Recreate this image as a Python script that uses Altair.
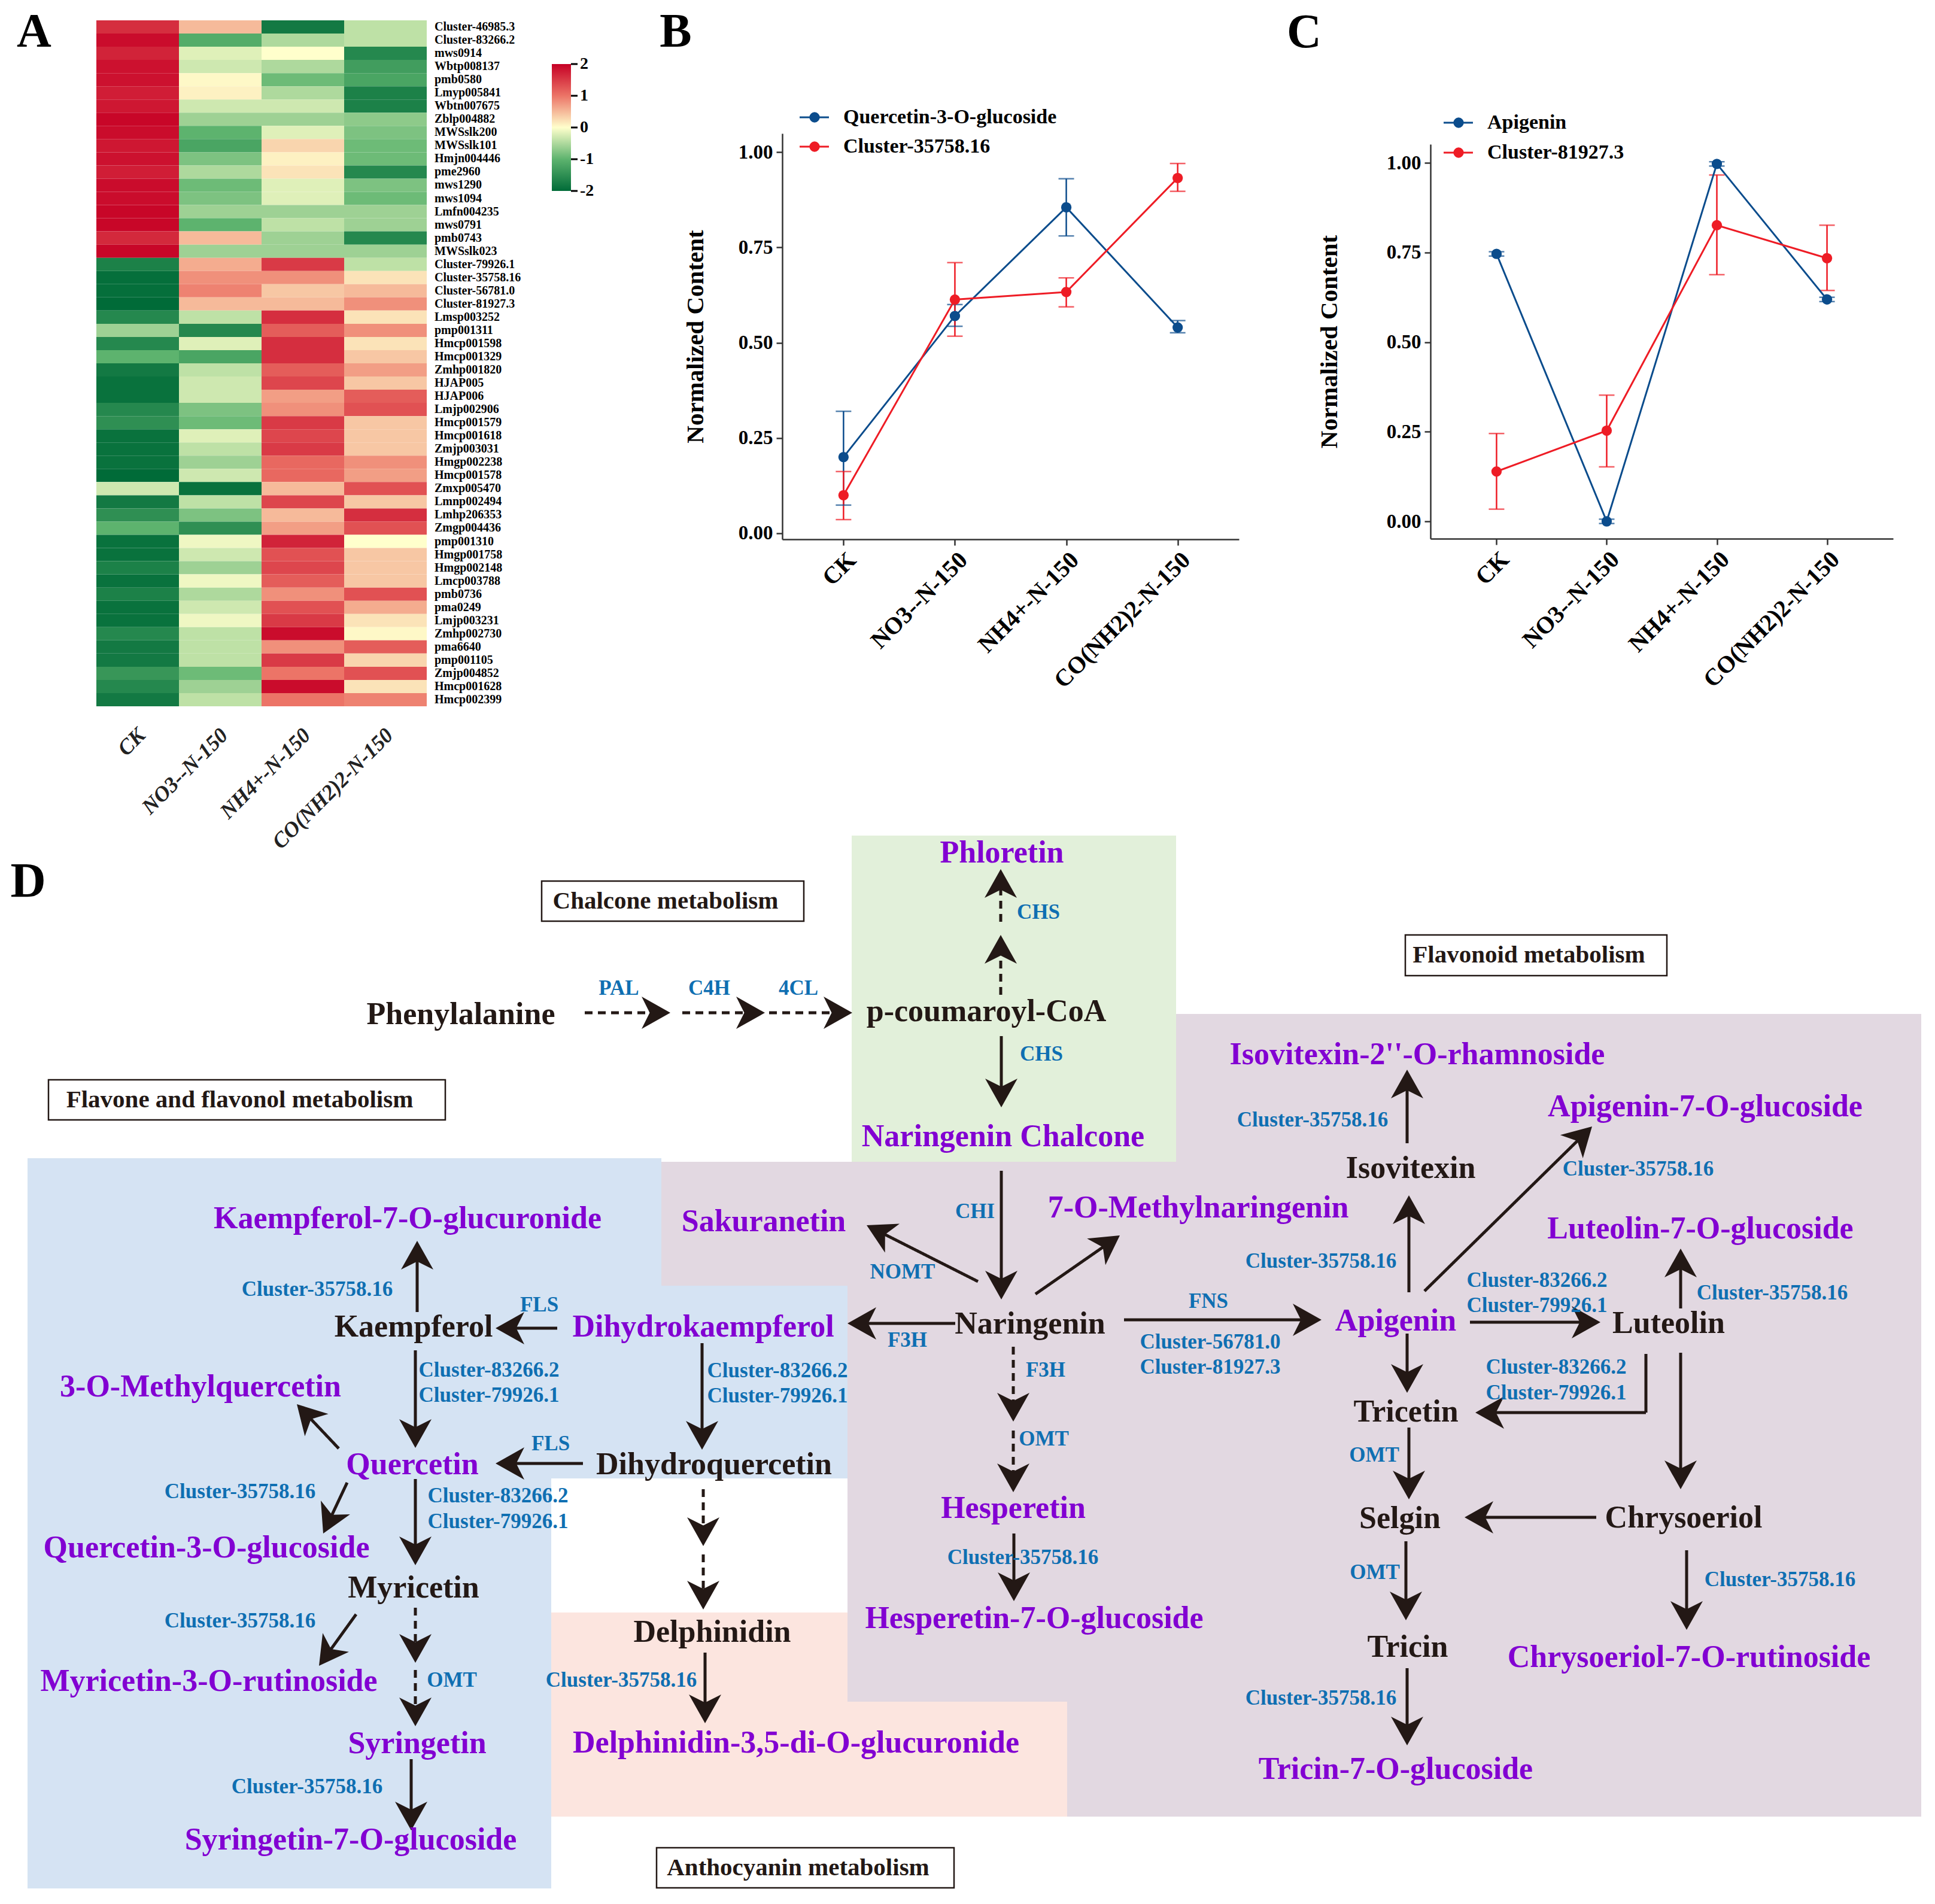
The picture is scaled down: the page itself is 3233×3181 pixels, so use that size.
import math
import altair as alt
import pandas as pd

FONT = "Liberation Serif"
BLACK = "#231815"
PURPLE = "#8200D2"
GENE_BLUE = "#0F6FB2"
LINE_BLUE = "#0B4C8C"
LINE_RED = "#EE1C25"
HEAT_COLORS = ["#006B38", "#5DB36E", "#FFFFCC", "#EC7467", "#C60025"]

# ---------------- Panel A data ----------------
conditions = ["CK", "NO3--N-150", "NH4+-N-150", "CO(NH2)2-N-150"]
genes = ["Cluster-46985.3", "Cluster-83266.2", "mws0914", "Wbtp008137", "pmb0580", "Lmyp005841",
         "Wbtn007675", "Zblp004882", "MWSslk200", "MWSslk101", "Hmjn004446", "pme2960", "mws1290",
         "mws1094", "Lmfn004235", "mws0791", "pmb0743", "MWSslk023", "Cluster-79926.1",
         "Cluster-35758.16", "Cluster-56781.0", "Cluster-81927.3", "Lmsp003252", "pmp001311",
         "Hmcp001598", "Hmcp001329", "Zmhp001820", "HJAP005", "HJAP006", "Lmjp002906", "Hmcp001579",
         "Hmcp001618", "Zmjp003031", "Hmgp002238", "Hmcp001578", "Zmxp005470", "Lmnp002494",
         "Lmhp206353", "Zmgp004436", "pmp001310", "Hmgp001758", "Hmgp002148", "Lmcp003788", "pmb0736",
         "pma0249", "Lmjp003231", "Zmhp002730", "pma6640", "pmp001105", "Zmjp004852", "Hmcp001628",
         "Hmcp002399"]
z_ck = [1.6, 1.9, 1.7, 1.85, 1.85, 1.75, 1.8, 1.95, 1.9, 1.8, 1.85, 1.75, 1.9, 1.9, 1.95, 1.95, 1.65, 1.95,
        -1.7, -1.95, -1.95, -2.0, -1.6, -0.6, -1.6, -1.0, -1.8, -1.9, -1.9, -1.6, -1.5, -1.9, -1.9, -1.9,
        -2.0, -0.3, -1.8, -1.5, -1.0, -1.9, -1.9, -1.7, -1.9, -1.7, -1.9, -1.9, -1.6, -1.8, -1.8, -1.4, -1.6, -1.8]
z_no3 = [0.5, -1.1, -0.2, -0.3, 0.05, 0.1, -0.3, -0.6, -1.0, -1.2, -0.8, -0.5, -0.9, -0.8, -0.6, -1.0, 0.5, -0.6,
         0.6, 0.8, 0.9, 0.5, -0.4, -1.6, -0.2, -1.2, -0.4, -0.3, -0.3, -0.8, -0.9, -0.2, -0.4, -0.6, -0.3,
         -1.9, -0.4, -0.8, -1.5, -0.1, -0.3, -0.6, -0.1, -0.5, -0.3, -0.1, -0.4, -0.4, -0.4, -0.9, -0.6, -0.4]
z_nh4 = [-1.8, -0.5, 0.0, -0.5, -0.9, -0.5, -0.3, -0.6, -0.2, 0.3, 0.1, 0.2, -0.2, -0.2, -0.6, -0.4, -0.6, -0.6,
         1.5, 0.8, 0.4, 0.5, 1.6, 1.2, 1.6, 1.6, 1.2, 1.4, 0.7, 0.8, 1.5, 1.4, 1.5, 1.1, 1.1, 0.5, 1.4, 0.5,
         0.7, 1.7, 1.3, 1.4, 1.2, 0.8, 1.3, 1.5, 1.9, 0.8, 1.5, 1.0, 1.9, 1.0]
z_co = [-0.4, -0.4, -1.6, -1.3, -1.2, -1.7, -1.7, -0.7, -0.8, -0.9, -0.9, -1.6, -0.8, -0.9, -0.6, -0.6, -1.6, -0.6,
        -0.4, 0.2, 0.5, 0.8, 0.2, 0.8, 0.2, 0.4, 0.7, 0.4, 1.2, 1.3, 0.4, 0.4, 0.4, 0.8, 0.7, 1.3, 0.4, 1.6,
        1.3, 0.0, 0.4, 0.4, 0.4, 1.3, 0.6, 0.2, 0.05, 1.2, 0.3, 1.3, 0.2, 0.9]
cb_ticks = [2, 1, 0, -1, -2]

# ---------------- Panel B / C data ----------------
b_series = ["Quercetin-3-O-glucoside", "Cluster-35758.16"]
b_mean_1 = [0.20, 0.57, 0.855, 0.54]
b_lo_1 = [0.074, 0.543, 0.78, 0.526]
b_hi_1 = [0.32, 0.60, 0.93, 0.558]
b_mean_2 = [0.10, 0.613, 0.633, 0.932]
b_lo_2 = [0.036, 0.517, 0.594, 0.897]
b_hi_2 = [0.162, 0.71, 0.67, 0.97]

c_series = ["Apigenin", "Cluster-81927.3"]
c_mean_1 = [0.746, 0.0, 0.997, 0.619]
c_lo_1 = [0.740, -0.006, 0.991, 0.613]
c_hi_1 = [0.752, 0.006, 1.003, 0.625]
c_mean_2 = [0.139, 0.253, 0.826, 0.734]
c_lo_2 = [0.034, 0.152, 0.688, 0.644]
c_hi_2 = [0.245, 0.352, 0.966, 0.826]
y_ticks = [0, 0.25, 0.5, 0.75, 1.0]

# ---------------- Panel D data (diagram coordinates) ----------------
met_names = ["Phenylalanine", "p-coumaroyl-CoA", "Phloretin", "Naringenin Chalcone", "Naringenin",
             "Sakuranetin", "7-O-Methylnaringenin", "Dihydrokaempferol", "Kaempferol",
             "Kaempferol-7-O-glucuronide", "3-O-Methylquercetin", "Quercetin", "Dihydroquercetin",
             "Quercetin-3-O-glucoside", "Myricetin", "Myricetin-3-O-rutinoside", "Syringetin",
             "Syringetin-7-O-glucoside", "Delphinidin", "Delphinidin-3,5-di-O-glucuronide", "Hesperetin",
             "Hesperetin-7-O-glucoside", "Isovitexin-2''-O-rhamnoside", "Isovitexin", "Apigenin-7-O-glucoside",
             "Luteolin-7-O-glucoside", "Apigenin", "Luteolin", "Tricetin", "Selgin", "Chrysoeriol", "Tricin",
             "Chrysoeriol-7-O-rutinoside", "Tricin-7-O-glucoside"]
met_x = [770, 1648, 1674, 1676, 1721, 1276, 2002, 1175, 691, 681, 335, 689, 1193, 345, 691, 349, 697, 586,
         1190, 1330, 1693, 1728, 2368, 2357, 2849, 2841, 2332, 2788, 2349, 2339, 2813, 2352, 2822, 2332]
met_y = [1695, 1690, 1425, 1899, 2212, 2041, 2018, 2217, 2217, 2036, 2317, 2447, 2447, 2586, 2653, 2809, 2913,
         3074, 2727, 2912, 2520, 2704, 1762, 1952, 1849, 2053, 2207, 2211, 2359, 2537, 2536, 2752, 2769, 2956]
met_kind = ["black", "black", "purple", "purple", "black", "purple", "purple", "purple", "black", "purple",
            "purple", "purple", "black", "purple", "black", "purple", "purple", "purple", "black", "purple",
            "purple", "purple", "purple", "black", "purple", "purple", "purple", "black", "black", "black",
            "black", "black", "purple", "purple"]

enz_names = ["PAL", "C4H", "4CL", "CHS", "CHS", "CHI", "NOMT", "F3H", "F3H", "FNS", "Cluster-56781.0",
             "Cluster-81927.3", "OMT", "Cluster-35758.16", "FLS", "FLS", "Cluster-35758.16", "Cluster-83266.2",
             "Cluster-79926.1", "Cluster-83266.2", "Cluster-79926.1", "Cluster-35758.16", "Cluster-83266.2",
             "Cluster-79926.1", "Cluster-35758.16", "OMT", "Cluster-35758.16", "Cluster-35758.16",
             "Cluster-35758.16", "Cluster-35758.16", "Cluster-35758.16", "Cluster-83266.2", "Cluster-79926.1",
             "Cluster-35758.16", "Cluster-83266.2", "Cluster-79926.1", "OMT", "OMT", "Cluster-35758.16",
             "Cluster-35758.16"]
enz_x = [1034, 1185, 1334, 1735, 1740, 1629, 1508, 1516, 1747, 2019, 2022, 2022, 1744, 1709, 901, 920, 530,
         817, 817, 1299, 1299, 401, 832, 832, 401, 755, 513, 1038, 2207, 2193, 2737, 2568, 2568, 2961, 2600,
         2600, 2296, 2297, 2974, 2207]
enz_y = [1651, 1651, 1651, 1524, 1761, 2024, 2125, 2239, 2289, 2174, 2242, 2284, 2404, 2602, 2180, 2412, 2154,
         2289, 2331, 2290, 2332, 2492, 2499, 2542, 2708, 2807, 2985, 2807, 2107, 1871, 1953, 2139, 2181, 2160,
         2284, 2327, 2431, 2627, 2639, 2837]

arr_x1 = [977, 1140, 1285, 1673, 1672, 1672, 1673, 1634, 1730, 1596, 1693, 1693, 1878, 2354, 2351, 2380, 2456,
          2808, 2351, 2750, 2750, 2808, 2354, 2667, 2349, 2818, 2351, 697, 931, 694, 1173, 974, 566, 580, 694,
          595, 694, 694, 687, 1175, 1175, 1178, 1694]
arr_y1 = [1692, 1692, 1692, 1731, 1662, 1540, 1956, 2141, 2162, 2211, 2250, 2390, 2205, 2159, 1910, 2157, 2209,
          2186, 2228, 2262, 2360, 2260, 2385, 2535, 2575, 2590, 2787, 2192, 2219, 2256, 2244, 2445, 2420, 2477,
          2471, 2697, 2686, 2790, 2939, 2488, 2597, 2761, 2562]
arr_x2 = [1120, 1278, 1424, 1673, 1672, 1672, 1673, 1448, 1871, 1416, 1693, 1693, 2208, 2354, 2351, 2660, 2674,
          2808, 2351, 2750, 2465, 2808, 2354, 2447, 2349, 2818, 2351, 697, 828, 694, 1173, 828, 496, 540, 694,
          533, 694, 694, 687, 1175, 1175, 1178, 1694]
arr_y2 = [1692, 1692, 1692, 1850, 1562, 1452, 2171, 2047, 2064, 2211, 2375, 2493, 2205, 1997, 1787, 1882, 2209,
          2086, 2327, 2360, 2360, 2488, 2505, 2535, 2707, 2723, 2916, 2073, 2219, 2419, 2422, 2445, 2346, 2562,
          2615, 2783, 2778, 2884, 3058, 2583, 2689, 2879, 2675]
arr_style = ["dashed", "dashed", "dashed", "solid", "dashed", "dashed", "solid", "solid", "solid", "solid",
             "dashed", "dashed", "solid", "solid", "solid", "solid", "solid", "solid", "solid", "solid", "solid",
             "solid", "solid", "solid", "solid", "solid", "solid", "solid", "solid", "solid", "solid", "solid",
             "solid", "solid", "solid", "solid", "dashed", "dashed", "solid", "dashed", "dashed", "solid", "solid"]
arr_head = [1, 1, 1, 1, 1, 1, 1, 1, 1, 1, 1, 1, 1, 1, 1, 1, 1, 1, 1, 0, 1, 1, 1, 1, 1, 1, 1, 1, 1, 1, 1, 1, 1, 1,
            1, 1, 1, 1, 1, 1, 1, 1, 1]

region_kind = ["flavonoid", "flavonoid", "flavonoid", "flavonoid", "flavone", "flavone", "flavone",
               "anthocyanin", "anthocyanin", "chalcone"]
region_x0 = [1965, 1105, 1416, 1783, 46, 921, 921, 921, 1416, 1423]
region_x1 = [3210, 1965, 1965, 1965, 921, 1105, 1416, 1416, 1783, 1965]
region_y0 = [1694, 1941, 2148, 2843, 1935, 1935, 2148, 2694, 2843, 1396]
region_y1 = [3035, 2148, 2843, 3035, 3155, 2148, 2470, 3035, 3035, 1941]
region_names = ["flavonoid", "flavone", "anthocyanin", "chalcone"]
region_fills = ["#E2D8E1", "#D5E3F3", "#FCE5DF", "#E2F0DA"]

box_names = ["Chalcone metabolism", "Flavonoid metabolism", "Flavone and flavonol metabolism",
             "Anthocyanin metabolism"]
box_x0 = [905, 2348, 81, 1097]
box_x1 = [1343, 2785, 744, 1594]
box_y0 = [1472, 1562, 1804, 3087]
box_y1 = [1539, 1630, 1871, 3154]

# ================= Panel A =================
heat = pd.DataFrame({
    "gene": [g for g in genes for _ in conditions],
    "cond": conditions * len(genes),
    "z": [v for row in zip(z_ck, z_no3, z_nh4, z_co) for v in row],
})
cscale = alt.Scale(domain=[-2, -1, 0, 1, 2], range=HEAT_COLORS, interpolate="rgb")
xA = alt.X("cond:N", sort=conditions, axis=None,
           scale=alt.Scale(range=[153, 705], paddingInner=0, paddingOuter=0))
yA = alt.Y("gene:N", sort=genes, axis=None,
           scale=alt.Scale(range=[26, 1172], paddingInner=0, paddingOuter=0))

a_heat = alt.Chart(heat).mark_rect().encode(x=xA, y=yA, color=alt.Color("z:Q", scale=cscale, legend=None))
a_rows = alt.Chart(pd.DataFrame({"gene": genes})).mark_text(
    align="left", baseline="middle", font=FONT, fontSize=20, fontWeight="bold", color="black"
).encode(x=alt.value(718), y=yA, text="gene:N")
a_cols = alt.Chart(pd.DataFrame({"cond": conditions})).mark_text(
    angle=315, align="right", baseline="middle", font=FONT, fontSize=36, fontWeight="bold",
    fontStyle="italic", color="#222222", dx=10
).encode(x=xA, y=alt.value(1222), text="cond:N")
grad = alt.Gradient(gradient="linear", x1=0, x2=0, y1=0, y2=1, stops=[
    alt.GradientStop(color=HEAT_COLORS[4], offset=0),
    alt.GradientStop(color=HEAT_COLORS[3], offset=0.25),
    alt.GradientStop(color=HEAT_COLORS[2], offset=0.5),
    alt.GradientStop(color=HEAT_COLORS[1], offset=0.75),
    alt.GradientStop(color=HEAT_COLORS[0], offset=1),
])
a_bar = alt.Chart(pd.DataFrame({"v": [0]})).mark_rect(fill=grad).encode(
    x=alt.value(914), x2=alt.value(946), y=alt.value(99), y2=alt.value(311))
cb_df = pd.DataFrame({"v": cb_ticks, "lab": [str(t) for t in cb_ticks]})
yCB = alt.Y("v:Q", axis=None, scale=alt.Scale(domain=[-2, 2], range=[311, 99], nice=False, zero=False))
a_cbt = alt.Chart(cb_df).mark_rule(color="black", strokeWidth=3).encode(
    x=alt.value(946), x2=alt.value(957), y=yCB)
a_cbl = alt.Chart(cb_df).mark_text(align="left", baseline="middle", font=FONT, fontSize=28,
                                   fontWeight="bold", color="black").encode(x=alt.value(961), y=yCB, text="lab:N")


def letter(txt, x, y):
    return alt.Chart(pd.DataFrame({"t": [txt]})).mark_text(
        font=FONT, fontSize=80, fontWeight="bold", color="black", align="center", baseline="alphabetic"
    ).encode(x=alt.value(x), y=alt.value(y), text="t:N")


A = alt.layer(a_heat, a_rows, a_cols, a_bar, a_cbt, a_cbl, letter("A", 49, 70)).resolve_scale(
    y="independent").properties(width=979, height=1292)


# ================= Panels B and C =================
def line_panel(series, means, los, his, ydom, yrng, w, h, pad, leg_x, leg_ys, let, let_pos, tpad):
    rows = []
    for s, m, l, hh in zip(series, means, los, his):
        for c, mv, lv, hv in zip(conditions, m, l, hh):
            rows.append({"series": s, "cond": c, "val": mv, "lo": lv, "hi": hv})
    df = pd.DataFrame(rows)
    cs = alt.Scale(domain=series, range=[LINE_BLUE, LINE_RED])
    col = alt.Color("series:N", scale=cs, legend=None)
    x = alt.X("cond:N", sort=conditions, scale=alt.Scale(type="point", padding=pad),
              axis=alt.Axis(title=None, labelAngle=315, labelAlign="right", labelBaseline="top",
                            labelFont=FONT, labelFontSize=40, labelFontWeight="bold", labelColor="black",
                            labelLimit=800, tickSize=10, tickWidth=2.5, tickColor="#333333",
                            domainColor="#333333", domainWidth=2.5, labelPadding=4, grid=False))
    yscale = alt.Scale(domain=ydom, range=yrng, nice=False, zero=False)
    yaxis = alt.Axis(values=y_ticks, format=".2f", title="Normalized Content", grid=False,
                     labelFont=FONT, labelFontSize=33, labelFontWeight="bold", labelColor="black",
                     titleFont=FONT, titleFontSize=41, titleFontWeight="bold", titleColor="black",
                     tickSize=10, tickWidth=2.5, tickColor="#333333", domainColor="#333333",
                     domainWidth=2.5, labelPadding=6, titlePadding=tpad)
    base = alt.Chart(df)
    err = base.mark_rule(strokeWidth=2.5).encode(
        x=x, y=alt.Y("lo:Q", scale=yscale, axis=yaxis), y2="hi:Q", color=col)
    cap_lo = base.mark_tick(size=26, thickness=2.5).encode(
        x=x, y=alt.Y("lo:Q", scale=yscale, axis=yaxis), color=col)
    cap_hi = base.mark_tick(size=26, thickness=2.5).encode(
        x=x, y=alt.Y("hi:Q", scale=yscale, axis=yaxis), color=col)
    line = base.mark_line(strokeWidth=3).encode(
        x=x, y=alt.Y("val:Q", scale=yscale, axis=yaxis), color=col)
    pts = base.mark_circle(size=300, opacity=1).encode(
        x=x, y=alt.Y("val:Q", scale=yscale, axis=yaxis), color=col)
    layers = [err, cap_lo, cap_hi, line, pts]
    for s, ly, c in zip(series, leg_ys, [LINE_BLUE, LINE_RED]):
        d1 = pd.DataFrame({"series": [s]})
        layers.append(alt.Chart(d1).mark_rule(color=c, strokeWidth=3).encode(
            x=alt.value(leg_x), x2=alt.value(leg_x + 49), y=alt.value(ly)))
        layers.append(alt.Chart(d1).mark_circle(color=c, size=300, opacity=1).encode(
            x=alt.value(leg_x + 25), y=alt.value(ly)))
        layers.append(alt.Chart(d1).mark_text(font=FONT, fontSize=34, fontWeight="bold", color="black",
                                              align="left", baseline="middle").encode(
            x=alt.value(leg_x + 73), y=alt.value(ly), text="series:N"))
    layers.append(letter(let, let_pos[0], let_pos[1]))
    return alt.layer(*layers).properties(width=w, height=h)


B = line_panel(b_series, [b_mean_1, b_mean_2], [b_lo_1, b_lo_2], [b_hi_1, b_hi_2],
               [-0.0157, 1.0487], [893, 215], 763, 893, 0.55, 29, [188, 237], "B", (-178, 70), 50)
C = line_panel(c_series, [c_mean_1, c_mean_2], [c_lo_1, c_lo_2], [c_hi_1, c_hi_2],
               [-0.0484, 1.0518], [892, 233], 773, 892, 0.60, 22, [197, 247], "C", (-211, 71), 74)

# ================= Panel D =================
xs = alt.Scale(domain=[8, 3225], nice=False, zero=False)
ys = alt.Scale(domain=[1300, 3173], nice=False, zero=False, reverse=True)


def DX(f):
    return alt.X(f, scale=xs, axis=None)


def DY(f):
    return alt.Y(f, scale=ys, axis=None)


reg_df = pd.DataFrame({"kind": region_kind, "x0": region_x0, "x1": region_x1, "y0": region_y0, "y1": region_y1})
d_reg = alt.Chart(reg_df).mark_rect().encode(
    x=DX("x0:Q"), x2="x1:Q", y=DY("y0:Q"), y2="y1:Q",
    fill=alt.Fill("kind:N", scale=alt.Scale(domain=region_names, range=region_fills), legend=None))

box_df = pd.DataFrame({"name": box_names, "x0": box_x0, "x1": box_x1, "y0": box_y0, "y1": box_y1})
d_box = alt.Chart(box_df).mark_rect(fill="white", stroke=BLACK, strokeWidth=2.5).encode(
    x=DX("x0:Q"), x2="x1:Q", y=DY("y0:Q"), y2="y1:Q")
d_boxt = alt.Chart(box_df).transform_calculate(
    cx="(datum.x0 + datum.x1) / 2", cy="(datum.y0 + datum.y1) / 2"
).mark_text(font=FONT, fontSize=41, fontWeight="bold", color=BLACK, baseline="middle", dx=-12).encode(
    x=DX("cx:Q"), y=DY("cy:Q"), text="name:N")

HEAD_LEN = 26
ex, ey, ang = [], [], []
for x1, y1, x2, y2, hd in zip(arr_x1, arr_y1, arr_x2, arr_y2, arr_head):
    dx, dy = x2 - x1, y2 - y1
    L = math.hypot(dx, dy)
    ux, uy = dx / L, dy / L
    cut = HEAD_LEN if hd else 0
    ex.append(x2 - ux * cut)
    ey.append(y2 - uy * cut)
    ang.append(math.degrees(math.atan2(dx, -dy)) % 360)
arr_df = pd.DataFrame({"x1": arr_x1, "y1": arr_y1, "x2": arr_x2, "y2": arr_y2, "xe": ex, "ye": ey,
                       "style": arr_style, "head": arr_head, "ang": ang})
d_lines = alt.Chart(arr_df).mark_rule(strokeWidth=5, color=BLACK).encode(
    x=DX("x1:Q"), y=DY("y1:Q"), x2="xe:Q", y2="ye:Q",
    strokeDash=alt.StrokeDash("style:N", scale=alt.Scale(domain=["solid", "dashed"],
                                                         range=[[1, 0], [13, 9]]), legend=None))
HEAD = "M0,0L0.9,1.6L0,1.15L-0.9,1.6Z"
d_heads = alt.Chart(arr_df).transform_filter("datum.head == 1").mark_point(
    shape=HEAD, filled=True, size=3600, opacity=1, color=BLACK, strokeWidth=0
).encode(x=DX("x2:Q"), y=DY("y2:Q"), angle=alt.Angle("ang:Q", scale=None))

met_df = pd.DataFrame({"name": met_names, "x": met_x, "y": met_y, "kind": met_kind})
d_mets = alt.Chart(met_df).mark_text(font=FONT, fontSize=52, fontWeight="bold", baseline="middle").encode(
    x=DX("x:Q"), y=DY("y:Q"), text="name:N",
    color=alt.Color("kind:N", scale=alt.Scale(domain=["black", "purple"], range=[BLACK, PURPLE]), legend=None))
enz_df = pd.DataFrame({"name": enz_names, "x": enz_x, "y": enz_y})
d_enz = alt.Chart(enz_df).mark_text(font=FONT, fontSize=35, fontWeight="bold", baseline="middle",
                                    color=GENE_BLUE).encode(x=DX("x:Q"), y=DY("y:Q"), text="name:N")
d_let = alt.Chart(pd.DataFrame({"t": ["D"], "x": [47], "y": [1498]})).mark_text(
    font=FONT, fontSize=82, fontWeight="bold", color="black", baseline="alphabetic").encode(
    x=DX("x:Q"), y=DY("y:Q"), text="t:N")

D = alt.layer(d_reg, d_box, d_boxt, d_lines, d_heads, d_mets, d_enz, d_let).properties(width=3217, height=1873)

top = alt.hconcat(A, B, C, spacing=320, bounds="flush").resolve_scale(color="independent")
chart = alt.vconcat(top, D, spacing=1292, bounds="flush").resolve_scale(
    color="independent").properties(padding=0, background="white").configure_view(strokeWidth=0)

chart.save("out.html", embed_options={"renderer": "svg", "actions": False})
